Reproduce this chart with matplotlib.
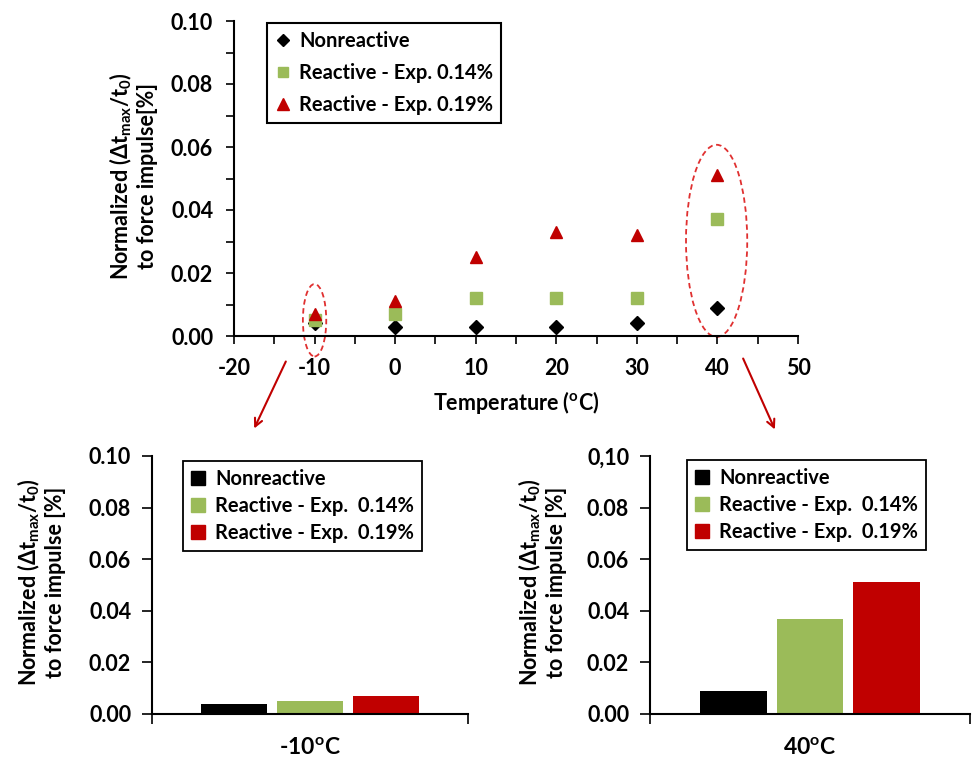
import matplotlib
matplotlib.use("Agg")
import matplotlib.pyplot as plt
from matplotlib.patches import Ellipse, FancyArrowPatch, Patch
from matplotlib.ticker import MultipleLocator, FormatStrFormatter

plt.rcParams['font.family'] = ['Lato', 'DejaVu Sans']
plt.rcParams['font.weight'] = 'bold'
plt.rcParams['axes.unicode_minus'] = False
plt.rcParams['mathtext.fontset'] = 'custom'
plt.rcParams['mathtext.rm'] = 'Lato:bold'
plt.rcParams['mathtext.it'] = 'Lato:bold'
plt.rcParams['mathtext.bf'] = 'Lato:bold'

# data
temps = [-10, 0, 10, 20, 30, 40]
nonreactive = [0.004, 0.003, 0.003, 0.003, 0.004, 0.009]
reactive_014 = [0.005, 0.007, 0.012, 0.012, 0.012, 0.037]
reactive_019 = [0.007, 0.011, 0.025, 0.033, 0.032, 0.051]

series_names = ["Nonreactive", "Reactive - Exp. 0.14%", "Reactive - Exp. 0.19%"]
bar_names = ["Nonreactive", "Reactive - Exp.  0.14%", "Reactive - Exp.  0.19%"]
bars_m10 = [0.004, 0.005, 0.007]
bars_40 = [0.009, 0.037, 0.051]

BLACK = "#000000"
GREEN = "#9BBB59"
RED = "#C00000"
colors = [BLACK, GREEN, RED]

W, H = 972, 760
fig = plt.figure(figsize=(W / 100, H / 100), dpi=100)


def box(l, t, r, b):
    return [l / W, 1 - b / H, (r - l) / W, (b - t) / H]


def fpos(x, y):
    return (x / W, 1 - y / H)


ylab = "Normalized (Δt$_{\\mathrm{max}}$/t$_{\\mathrm{0}}$)\nto force impulse[%]"
ylab2 = "Normalized (Δt$_{\\mathrm{max}}$/t$_{\\mathrm{0}}$)\nto force impulse [%]"
FS = 15.5
LFS = 14.5

# ---- top scatter ----
ax = fig.add_axes(box(234, 21, 798, 336))
ax.plot(temps, nonreactive, ls='none', marker='D', ms=7, color=BLACK, label=series_names[0])
ax.plot(temps, reactive_014, ls='none', marker='s', ms=8.5, color=GREEN, label=series_names[1])
ax.plot(temps, reactive_019, ls='none', marker='^', ms=9, color=RED, label=series_names[2])
ax.set_xlim(-20, 50)
ax.set_ylim(0, 0.10)
ax.xaxis.set_major_locator(MultipleLocator(10))
ax.xaxis.set_minor_locator(MultipleLocator(5))
ax.yaxis.set_major_locator(MultipleLocator(0.02))
ax.yaxis.set_minor_locator(MultipleLocator(0.01))
ax.yaxis.set_major_formatter(FormatStrFormatter('%.2f'))
for s in ['top', 'right']:
    ax.spines[s].set_visible(False)
for s in ['left', 'bottom']:
    ax.spines[s].set_linewidth(1.5)
ax.tick_params(which='both', direction='out', length=6, width=1.2, labelsize=FS, pad=9)
ax.tick_params(axis='x', pad=10)

ax.add_patch(Ellipse((-10, 0.005), 2.9, 0.023, fill=False, ec='#E03030', ls=(0, (3, 2)), lw=1.3, clip_on=False))
ax.add_patch(Ellipse((39.9, 0.0302), 7.6, 0.061, fill=False, ec='#E03030', ls=(0, (3, 2)), lw=1.3, clip_on=False))

leg = ax.legend(loc='upper left', bbox_to_anchor=fpos(267, 23), bbox_transform=fig.transFigure,
                frameon=True, fancybox=False, edgecolor='black', framealpha=1, borderaxespad=0,
                fontsize=LFS, handlelength=0.8, handletextpad=0.4, labelspacing=0.6,
                borderpad=0.4, markerscale=0.9)
leg.get_frame().set_linewidth(1.5)

fig.text(133 / W, 1 - 176 / H, ylab, rotation=90, ha='center', va='center', ma='center', fontsize=FS)
fig.text(516 / W, 1 - 402 / H, "Temperature ($^{\\mathrm{o}}$C)", ha='center', va='center', fontsize=FS)


# ---- bottom bar charts ----
def bar_panel(rect, values, cat_label, ylabel_x, zero_comma=False):
    bx = fig.add_axes(rect)
    bx.bar([-1, 0, 1], values, width=0.87, color=colors)
    bx.set_xlim(-2.08, 2.08)
    bx.set_ylim(0, 0.10)
    labels = ['%.2f' % v for v in [0, 0.02, 0.04, 0.06, 0.08, 0.10]]
    if zero_comma:
        labels[-1] = '0,10'
    bx.set_yticks([0, 0.02, 0.04, 0.06, 0.08, 0.10], labels=labels)
    bx.set_xticks([-2.08, 2.08], labels=['', ''])
    bx.tick_params(which='major', direction='out', length=7, width=1.2, labelsize=FS, pad=8)
    for s in ['top', 'right']:
        bx.spines[s].set_visible(False)
    for s in ['left', 'bottom']:
        bx.spines[s].set_linewidth(1.5)
    # category label under the group
    bx.annotate(cat_label, xy=(0, 0), xycoords=('data', 'axes fraction'), xytext=(0, -24),
                textcoords='offset points', ha='center', va='center', fontsize=16.5, fontweight='bold')
    fig.text(ylabel_x / W, 1 - 582 / H, ylab2, rotation=90, ha='center', va='center', ma='center', fontsize=FS)
    return bx


bl = bar_panel(box(152, 456, 468, 714), bars_m10, "-10$^{\\mathrm{o}}$C", 41)
br = bar_panel(box(650, 456, 970, 714), bars_40, "40$^{\\mathrm{o}}$C", 542, zero_comma=True)

handles = [Patch(color=c) for c in colors]
for a, (l, t) in [(bl, (183, 461)), (br, (687, 460))]:
    leg = a.legend(handles, bar_names, loc='upper left', bbox_to_anchor=fpos(l, t),
                   bbox_transform=fig.transFigure, frameon=True, fancybox=False, edgecolor='black',
                   framealpha=1, borderaxespad=0, fontsize=LFS, handlelength=0.7, handleheight=0.7,
                   handletextpad=0.5, labelspacing=0.35, borderpad=0.4)
    leg.get_frame().set_linewidth(1.3)

# ---- red arrows from the top chart to the panels ----
for p0, p1 in [((287, 359), (253, 431)), ((742, 356), (776, 432))]:
    fig.add_artist(FancyArrowPatch(fpos(*p0), fpos(*p1), transform=fig.transFigure,
                                   arrowstyle='->', mutation_scale=14, color=RED, lw=1.5))

fig.savefig("out.png", dpi=100)
